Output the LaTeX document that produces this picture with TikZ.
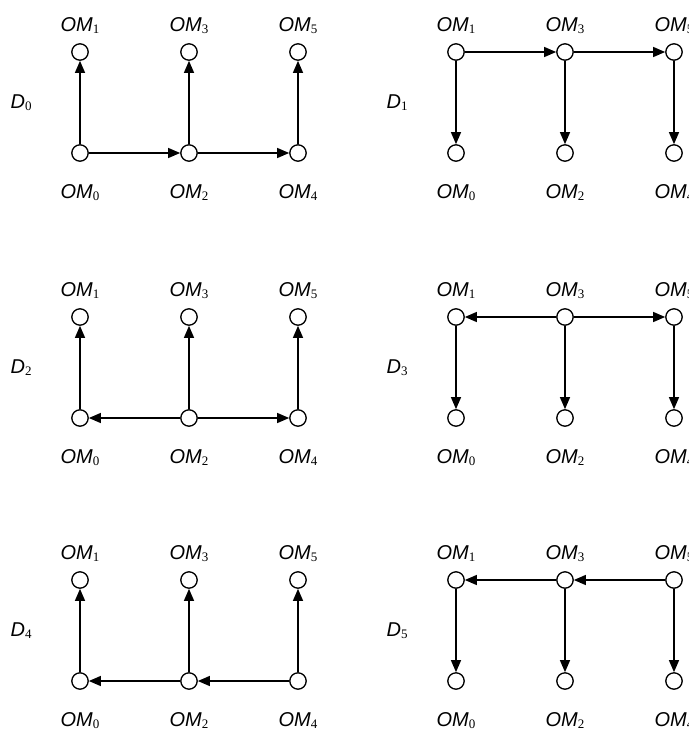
\documentclass[tikz,border=0pt]{standalone}
\usepackage{fontspec}
\setmainfont{Liberation Sans}
\newfontfamily\subfont{Liberation Serif}
\usetikzlibrary{arrows.meta,positioning,calc}

% italic name with an upright serif index
\newcommand{\omlabel}[2]{\textit{#1}\raisebox{-1pt}{\subfont\fontsize{6.5}{7}\selectfont #2}}

\begin{document}
\begin{tikzpicture}[x=0.5pt,y=-0.5pt,
	omnode/.style={circle,draw,line width=0.65pt,minimum size=8.2pt,inner sep=0pt},
	lbl/.style={inner sep=0pt,font=\fontsize{10}{12}\selectfont},
	link/.style={-{Triangle[length=6pt,width=5pt]},line width=0.65pt}]
	\useasboundingbox (0,0) rectangle (689,729);
	% six panels: top row OM1,OM3,OM5 and bottom row OM0,OM2,OM4
	\foreach \i/\cx/\cy in {0/80/52, 1/456/52, 2/80/317, 3/456/317, 4/80/580, 5/456/580}{
		\node[omnode] (d\i-1) at (\cx,\cy) {};
		\node[omnode] (d\i-3) at (\cx+109,\cy) {};
		\node[omnode] (d\i-5) at (\cx+218,\cy) {};
		\node[omnode] (d\i-0) at (\cx,\cy+101) {};
		\node[omnode] (d\i-2) at (\cx+109,\cy+101) {};
		\node[omnode] (d\i-4) at (\cx+218,\cy+101) {};
		\foreach \k in {1,3,5}
			\node[lbl,above=4.5pt of d\i-\k] (t\i-\k) {\omlabel{OM}{\k}};
		\foreach \k in {0,2,4}
			\node[lbl,below=11pt of d\i-\k] (b\i-\k) {\omlabel{OM}{\k}};
		\coordinate (m\i) at ($(d\i-1)!0.5!(d\i-0)$);
		\node[lbl,left=24pt of m\i] (dl\i) {\omlabel{D}{\i}};
	}
	% vertical links: up on the left, down on the right
	\foreach \i in {0,2,4}{
		\draw[link] (d\i-0) -- (d\i-1);
		\draw[link] (d\i-2) -- (d\i-3);
		\draw[link] (d\i-4) -- (d\i-5);
	}
	\foreach \i in {1,3,5}{
		\draw[link] (d\i-1) -- (d\i-0);
		\draw[link] (d\i-3) -- (d\i-2);
		\draw[link] (d\i-5) -- (d\i-4);
	}
	% horizontal links
	\draw[link] (d0-0) -- (d0-2);
	\draw[link] (d0-2) -- (d0-4);
	\draw[link] (d1-1) -- (d1-3);
	\draw[link] (d1-3) -- (d1-5);
	\draw[link] (d2-2) -- (d2-0);
	\draw[link] (d2-2) -- (d2-4);
	\draw[link] (d3-3) -- (d3-1);
	\draw[link] (d3-3) -- (d3-5);
	\draw[link] (d4-4) -- (d4-2);
	\draw[link] (d4-2) -- (d4-0);
	\draw[link] (d5-5) -- (d5-3);
	\draw[link] (d5-3) -- (d5-1);
\end{tikzpicture}
\end{document}
